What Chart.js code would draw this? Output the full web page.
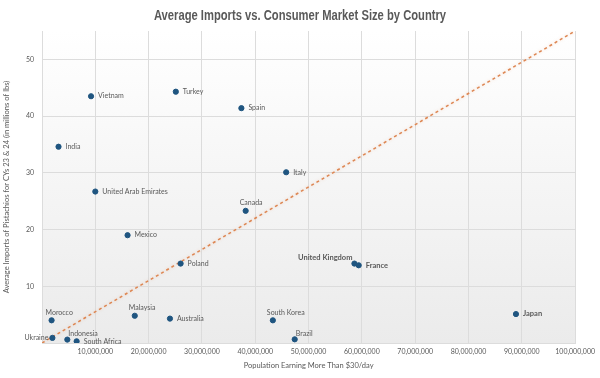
<!DOCTYPE html>
<html>
<head>
<meta charset="utf-8">
<script src="https://cdn.jsdelivr.net/npm/chart.js@4/dist/chart.umd.min.js"></script>
<style>
  html, body { margin: 0; padding: 0; background: #fff; }
  #wrap { width: 600px; height: 378px; }
</style>
</head>
<body>
<div id="wrap"><canvas id="chart" width="600" height="378"></canvas></div>
<script>
const countries = ["Vietnam", "Turkey", "India", "United Arab Emirates", "Spain", "Italy", "Canada",
  "Mexico", "Poland", "United Kingdom", "France", "Morocco", "Ukraine", "Indonesia", "South Africa",
  "Malaysia", "Australia", "South Korea", "Brazil", "Japan"];
const population = [9200000, 25100000, 3100000, 10000000, 37400000, 45800000, 38200000,
  16050000, 26000000, 58600000, 59400000, 1800000, 1950000, 4750000, 6500000,
  17400000, 24000000, 43300000, 47400000, 88900000];
const imports = [43.5, 44.3, 34.6, 26.7, 41.4, 30.1, 23.3,
  19.0, 14.0, 14.0, 13.7, 4.0, 0.9, 0.6, 0.3,
  4.8, 4.3, 4.0, 0.65, 5.1];
const boldLabels = ["United Kingdom", "France", "Japan"];

// trend line end points
const trendX = [0, 100000000];
const trendY = [0, 55];

const xTicks = [10000000, 20000000, 30000000, 40000000, 50000000, 60000000, 70000000, 80000000, 90000000, 100000000];
const yTicks = [10, 20, 30, 40, 50];

const chartTitle = "Average Imports vs. Consumer Market Size by Country";

// where each label sits relative to its dot
const labelPlace = {
  "Morocco": "above", "Malaysia": "above", "Canada": "above", "South Korea": "above",
  "Indonesia": "aboveRight", "Brazil": "aboveRight",
  "Ukraine": "left", "United Kingdom": "aboveLeft"
};

const gray = "#595959";
const labelFont = "Lato, 'Open Sans', sans-serif";

const bgPlugin = {
  id: "bg",
  beforeDraw(chart) {
    const { ctx, chartArea: a } = chart;
    const g = ctx.createLinearGradient(0, a.top, 0, a.bottom);
    g.addColorStop(0, "#ffffff");
    g.addColorStop(1, "#ebebeb");
    ctx.save();
    ctx.fillStyle = g;
    ctx.fillRect(a.left, a.top, a.right - a.left, a.bottom - a.top);
    ctx.restore();
  }
};

// narrow bold title (Liberation Sans squeezed like Arial Narrow)
const titlePlugin = {
  id: "narrowTitle",
  afterDraw(chart) {
    const ctx = chart.ctx;
    ctx.save();
    ctx.translate(chart.width / 2, 16);
    ctx.scale(0.8, 1);
    ctx.font = "bold 14px 'Liberation Sans', Arial, sans-serif";
    ctx.fillStyle = gray;
    ctx.textAlign = "center";
    ctx.textBaseline = "middle";
    ctx.fillText(chartTitle, 0, 0);
    ctx.restore();
  }
};

const glowPlugin = {
  id: "glow",
  beforeDatasetDraw(chart, args) {
    if (args.index !== 1) return;
    chart.ctx.save();
    chart.ctx.shadowColor = "rgba(230,140,90,0.35)";
    chart.ctx.shadowBlur = 3;
  },
  afterDatasetDraw(chart, args) {
    if (args.index !== 1) return;
    chart.ctx.restore();
  }
};

const labelPlugin = {
  id: "pointLabels",
  afterDatasetsDraw(chart) {
    const ctx = chart.ctx;
    const meta = chart.getDatasetMeta(0);
    ctx.save();
    ctx.fillStyle = gray;
    meta.data.forEach((pt, i) => {
      const name = countries[i];
      const bold = boldLabels.includes(name);
      ctx.font = (bold ? "bold 7.5px " : "7px ") + labelFont;
      ctx.textBaseline = "middle";
      const place = labelPlace[name] || "right";
      let x = pt.x, y = pt.y;
      if (place === "right") { ctx.textAlign = "left"; x += 7; }
      else if (place === "left") { ctx.textAlign = "right"; x -= 4; }
      else if (place === "above") { ctx.textAlign = "left"; x -= 6; y -= 8; }
      else if (place === "aboveRight") { ctx.textAlign = "left"; x += 1; y -= 6; }
      else if (place === "aboveLeft") { ctx.textAlign = "right"; x -= 2; y -= 6; }
      ctx.fillText(name, x, y);
    });
    ctx.restore();
  }
};

new Chart(document.getElementById("chart"), {
  type: "scatter",
  data: {
    datasets: [
      {
        label: "Countries",
        data: population.map((p, i) => ({ x: p, y: imports[i] })),
        backgroundColor: "#1f5580",
        borderColor: "#1f5580",
        pointRadius: 2.6,
        pointHoverRadius: 2.6
      },
      {
        label: "Trend",
        type: "line",
        data: trendX.map((x, i) => ({ x: x, y: trendY[i] })),
        borderColor: "#dd8652",
        borderWidth: 1.5,
        borderDash: [3, 3],
        pointRadius: 0,
        fill: false
      }
    ]
  },
  options: {
    responsive: false,
    animation: false,
    layout: { padding: { left: 0, right: 24, top: 31, bottom: 0 } },
    plugins: {
      legend: { display: false },
      tooltip: { enabled: false },
      title: { display: false }
    },
    scales: {
      x: {
        type: "linear",
        min: 0,
        max: 100000000,
        afterBuildTicks(s) { s.ticks = [0].concat(xTicks).map(v => ({ value: v })); },
        afterFit(s) { s.height = 35; },
        grid: { color: "#dcdcdc", drawTicks: false },
        border: { color: "#dcdcdc" },
        ticks: {
          padding: 5,
          color: gray,
          font: { family: labelFont, size: 7 },
          maxRotation: 0,
          autoSkip: false,
          callback: v => v === 0 ? "" : v.toLocaleString("en-US")
        },
        title: {
          display: true,
          text: "Population Earning More Than $30/day",
          color: gray,
          font: { family: labelFont, size: 7.5 },
          padding: { top: 4, bottom: 8 }
        }
      },
      y: {
        min: 0,
        max: 55,
        afterBuildTicks(s) { s.ticks = [0].concat(yTicks).map(v => ({ value: v })); },
        afterFit(s) { s.width = 42; },
        grid: { color: "#dcdcdc", drawTicks: false },
        border: { color: "#dcdcdc" },
        ticks: {
          padding: 8,
          color: gray,
          font: { family: labelFont, size: 7 },
          callback: v => v === 0 ? "" : v
        },
        title: {
          display: true,
          text: "Average Imports of Pistachios for CYs 23 & 24 (in millions of lbs)",
          color: gray,
          font: { family: labelFont, size: 7.6 },
          padding: { top: 2, bottom: 2 }
        }
      }
    }
  },
  plugins: [bgPlugin, glowPlugin, labelPlugin, titlePlugin]
});
</script>
</body>
</html>
